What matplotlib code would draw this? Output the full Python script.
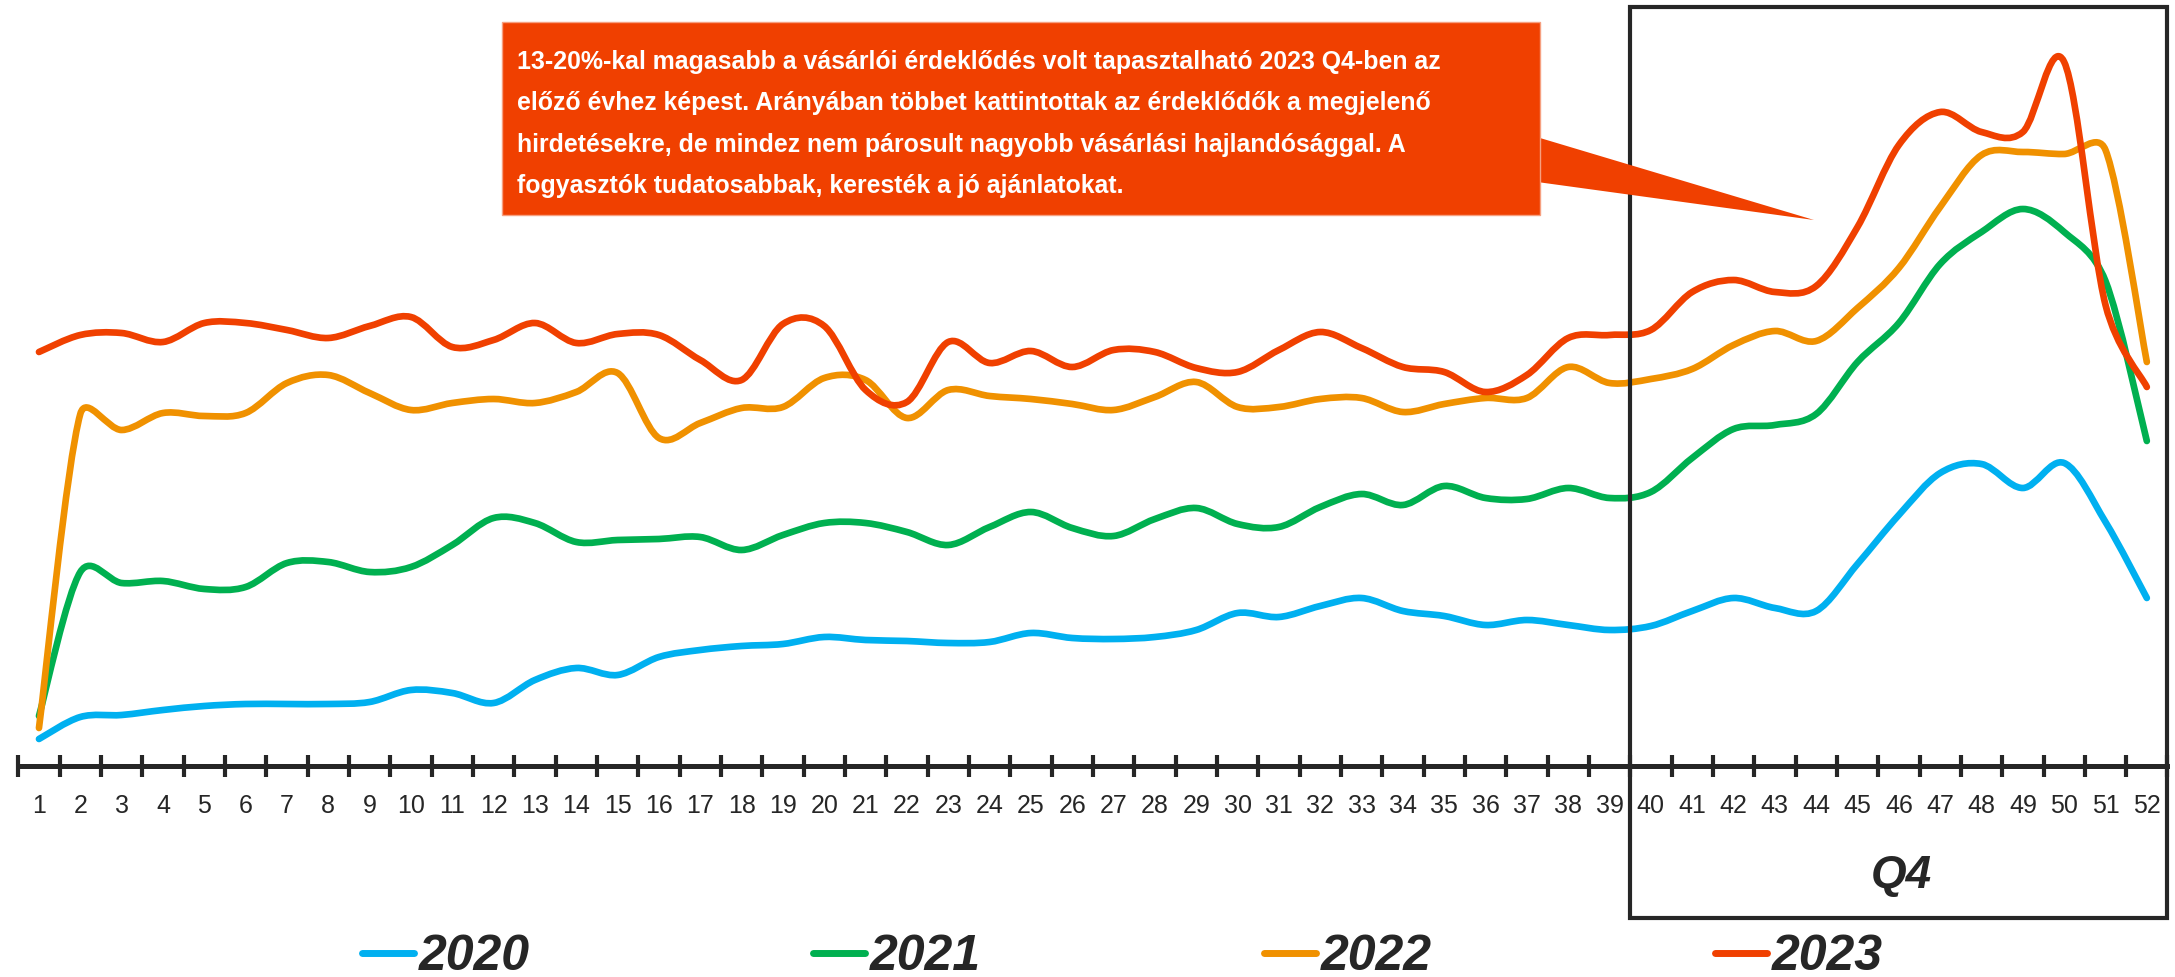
import numpy as np
import matplotlib
matplotlib.use('Agg')
import matplotlib.pyplot as plt
from matplotlib.path import Path
from matplotlib.patches import PathPatch, Rectangle, Polygon
from matplotlib.lines import Line2D
from matplotlib.transforms import blended_transform_factory

# weekly index per year (arbitrary units)
weeks = list(range(1, 53))
years = ['2020', '2021', '2022', '2023']
colors = ['#00B0F0', '#00B050', '#F09100', '#F04000']

v2020 = [27, 49, 51, 56, 60, 62, 62, 62, 64, 76, 73, 63, 86,
         98, 91, 109, 116, 120, 122, 129, 126, 125, 123, 124, 133, 128,
         127, 129, 136, 153, 149, 160, 168, 155, 150, 141, 146, 141, 136,
         140, 155, 168, 158, 155, 202, 251, 293, 302, 278, 303, 244, 168]
v2021 = [50, 194, 183, 185, 177, 179, 203, 204, 194, 199, 221, 248, 243,
         224, 226, 227, 229, 216, 231, 243, 243, 234, 221, 239, 254, 238,
         230, 247, 258, 242, 239, 259, 272, 261, 280, 268, 267, 278, 268,
         274, 308, 337, 341, 352, 404, 443, 502, 534, 557, 534, 485, 325]
v2022 = [38, 352, 336, 353, 350, 353, 383, 391, 373, 356, 363, 367, 363,
         374, 393, 328, 343, 358, 359, 388, 386, 348, 376, 370, 367, 362,
         356, 369, 384, 359, 359, 367, 368, 354, 362, 368, 368, 399, 383,
         387, 397, 421, 435, 425, 458, 498, 559, 611, 614, 612, 616, 404]
v2023 = [414, 431, 433, 424, 443, 443, 436, 428, 440, 449, 419, 426, 443,
         423, 432, 431, 406, 386, 442, 440, 376, 364, 424, 403, 415, 399,
         416, 414, 398, 394, 416, 434, 418, 399, 394, 374, 391, 428, 431,
         436, 474, 486, 474, 480, 539, 621, 654, 634, 634, 704, 461, 379]
series = [v2020, v2021, v2022, v2023]

note = ("13-20%-kal magasabb a vásárlói érdeklődés volt tapasztalható 2023 Q4-ben az\n"
        "előző évhez képest. Arányában többet kattintottak az érdeklődők a megjelenő\n"
        "hirdetésekre, de mindez nem párosult nagyobb vásárlási hajlandósággal. A\n"
        "fogyasztók tudatosabbak, keresték a jó ajánlatokat.")

dark = '#262626'
plt.rcParams['font.family'] = ['Liberation Sans', 'DejaVu Sans']

W, H = 2175, 977
PX_PER_WEEK = 2149.2 / 52.0


def smooth_path(x, y):
  # excel style smoothed line: cubic beziers, tangents clamped by segment length
  pts = np.column_stack([x, y]).astype(float)
  scale = np.array([PX_PER_WEEK, 1.0])
  n = len(pts)
  dist = lambda a, b: np.hypot(*((b - a) * scale))
  verts = [pts[0]]
  codes = [Path.MOVETO]
  for i in range(n - 1):
    p0 = pts[max(i - 1, 0)]
    p1 = pts[i]
    p2 = pts[i + 1]
    p3 = pts[min(i + 2, n - 1)]
    d12 = dist(p1, p2)
    d02 = dist(p0, p2)
    d13 = dist(p1, p3)
    f1 = min(1 / 6.0, 0.5 * d12 / d02) if d02 > 0 else 0
    f2 = min(1 / 6.0, 0.5 * d12 / d13) if d13 > 0 else 0
    verts += [p1 + (p2 - p0) * f1, p2 - (p3 - p1) * f2, p2]
    codes += [Path.CURVE4] * 3
  return Path(verts, codes)


fig = plt.figure(figsize=(W / 100, H / 100), dpi=100)
ax = fig.add_axes([18.3 / W, (H - 766) / H, 2149.2 / W, 766 / H])
ax.set_xlim(0.5, 52.5)
ax.set_ylim(0, 766)

for vals, c in zip(series, colors):
  ax.add_patch(PathPatch(smooth_path(weeks, vals), fill=False, edgecolor=c,
                         lw=4.8, capstyle='round', joinstyle='round', zorder=3))

for s in ['left', 'right', 'top']:
  ax.spines[s].set_visible(False)
ax.spines['bottom'].set_linewidth(3.6)
ax.spines['bottom'].set_color(dark)
ax.set_yticks([])
ax.set_xticks(np.arange(0.5, 53, 1))
ax.set_xticklabels([])
ax.set_xticks(weeks, minor=True)
ax.set_xticklabels([str(w) for w in weeks], minor=True, fontsize=18, color=dark)
ax.tick_params(axis='x', which='major', direction='inout', length=16,
               width=3, color=dark)
ax.tick_params(axis='x', which='minor', length=0, pad=20)

# Q4 frame
bt = blended_transform_factory(ax.transData, fig.transFigure)
y0 = 1 - 918 / H
y1 = 1 - 7 / H
ax.add_patch(Rectangle((39.5, y0), 13, y1 - y0, transform=bt, fill=False,
                       edgecolor=dark, lw=3, clip_on=False, zorder=6))
ax.text(46.05, 1 - 876 / H, 'Q4', transform=bt, ha='center', va='center',
        fontsize=33, fontweight='bold', fontstyle='italic', color=dark)

# callout
fig.add_artist(Polygon([(1530 / W, 1 - 135 / H), (1814 / W, 1 - 220 / H),
                        (1530 / W, 1 - 181 / H)], closed=True,
                       transform=fig.transFigure, facecolor='#F04000',
                       edgecolor='none', zorder=4))
fig.add_artist(Rectangle((502 / W, 1 - 215 / H), 1038 / W, 193 / H,
                         transform=fig.transFigure, facecolor='#F04000',
                         edgecolor='#F6A080', lw=1, zorder=4))
fig.text(517 / W, 1 - 124 / H, note, ha='left', va='center', color='white',
         fontsize=17.9, fontweight='bold', linespacing=1.92, zorder=5)

handles = [Line2D([], [], color=c, lw=5, solid_capstyle='round') for c in colors]
fig.legend(handles, years, loc='center left', bbox_to_anchor=(362 / W, 1 - 957 / H),
           ncol=4, frameon=False, handlelength=1.04, handletextpad=0.1,
           columnspacing=5.66, borderpad=0, borderaxespad=0,
           prop={'size': 36, 'weight': 'bold', 'style': 'italic'},
           labelcolor=dark)

fig.savefig('out.png', dpi=100)
